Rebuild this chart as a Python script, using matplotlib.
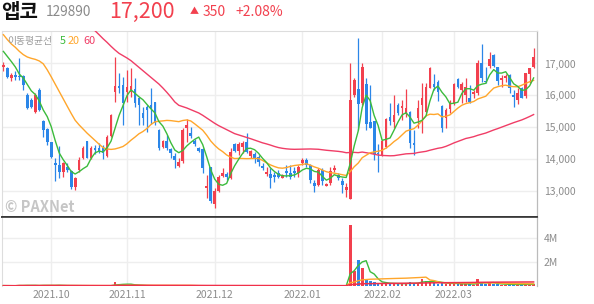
import matplotlib
matplotlib.use('Agg')
import matplotlib.pyplot as plt
import numpy as np
import pandas as pd

plt.rcParams['font.family'] = ['Noto Sans CJK KR', 'DejaVu Sans']

# ---------------- data (daily, 2021-09-10 .. 2022-03-31) ----------------
opens = [16900,16870,16530,16640,16620,16620,16010,15850,15470,16170,
         15190,14930,14520,13860,13810,13600,13740,13620,13130,13650,
         14020,14560,14040,14350,14350,14330,14100,14730,16090,16300,
         16320,16110,16110,16200,15900,15430,15640,15700,15780,14910,
         14385,14560,14310,14100,13780,13935,14960,14825,14563,14333,
         14300,13096,13757,12572,12991,13473,13515,13390,14459,14249,
         14385,14542,14102,14165,14071,13788,13515,13515,13494,13547,
         13410,13620,13547,13620,13547,13882,13966,13809,13253,13180,
         13651,13159,13233,13651,13494,13316,13023,12730,16010,16190,
         15748,16345,15171,15192,14176,14123,14385,15329,15171,15695,
         15590,15402,15486,14490,15276,15695,15486,16240,16345,16429,
         15674,15300,15569,15748,16513,16167,16010,15925,16031,16062,
         17005,16450,16932,17267,16879,16481,16555,16638,16010,15852,
         16219,15988,16660,16900]
highs = [17040,16900,16690,16760,17160,16640,16060,15900,16060,16220,
         15220,14960,14540,14020,14390,13910,13860,13650,13440,14070,
         14390,14560,14390,14450,14490,14440,14750,15420,17210,16690,
         16580,16800,16870,16530,15960,15640,15700,16220,15800,14930,
         14600,14750,14330,14180,14020,14960,15255,15015,14626,14385,
         14333,13494,13757,13075,13494,13704,13600,14333,14490,14542,
         14563,14805,14280,14207,14123,13861,13757,13725,13600,13651,
         13530,13810,13810,13757,13810,14039,14018,13830,13337,13704,
         13725,13230,13757,13809,13547,13390,13233,17005,16534,17790,
         17005,16534,16324,15192,14459,14600,15276,15748,16010,15748,
         15852,16198,15507,14910,15852,16376,16376,16900,16659,16481,
         15695,15590,15852,16376,16534,16429,16534,16324,16167,17110,
         17603,16900,17351,17288,16900,16638,16659,16659,16167,16219,
         16272,16712,16870,17500]
lows = [16760,16555,16450,16480,16480,16170,15570,15600,15430,15510,
        14700,14440,14040,13290,13410,13440,13600,13050,13020,13600,
        14000,14020,14000,14150,14180,14000,14070,14700,15800,16060,
        15060,15800,15960,15640,15070,15070,14860,15100,15070,14280,
        14350,14280,14040,13700,13730,13860,14540,14650,14417,14207,
        13547,12760,12604,12467,12970,13442,13337,13369,14207,14123,
        14176,14176,14039,13861,13788,13651,13473,13096,13285,13390,
        13390,13442,13369,13442,13442,13809,13757,13233,12950,13159,
        13180,13140,13180,13599,13337,12939,12813,12730,15960,14910,
        15696,14910,14962,13966,13599,14100,14354,15066,14962,15381,
        15224,15329,14333,14123,14962,14805,15433,16219,16167,15821,
        14836,14962,15433,15695,16219,15748,15800,15748,15905,16010,
        16429,16376,16848,16900,16324,16272,16429,16062,15643,15716,
        15905,15905,16376,16848]
closes = [16950,16590,16640,16590,16560,16320,15590,15640,16010,15540,
          14910,14540,14070,13810,13600,13860,13650,13100,13410,13970,
          14330,14040,14330,14280,14250,14180,14700,15380,16300,16240,
          15750,16270,16300,15750,15700,15280,15540,15600,15120,14330,
          14560,14350,14180,13970,13910,14910,15066,14730,14460,14260,
          13725,13150,12687,13002,13442,13568,13442,14207,14249,14459,
          14490,14228,14249,14018,13893,13704,13578,13390,13442,13442,
          13494,13547,13442,13547,13757,13966,13809,13337,13159,13651,
          13306,13201,13630,13725,13410,13180,13128,15852,16480,15730,
          16880,15087,14983,14144,14144,14563,15245,15192,15381,15433,
          15664,15590,14490,14438,15611,15925,16272,16869,16272,16115,
          14962,15530,15800,16345,16272,16345,16272,15800,16115,17005,
          16555,16408,17141,16932,16460,16555,16617,16219,15957,16062,
          15925,16691,16850,17200]
volumes = [30e3,25e3,20e3,25e3,90e3,30e3,80e3,25e3,30e3,20e3,
           90e3,70e3,30e3,25e3,80e3,30e3,20e3,25e3,20e3,30e3,
           25e3,20e3,20e3,15e3,15e3,15e3,25e3,60e3,300e3,150e3,
           150e3,90e3,70e3,40e3,30e3,25e3,20e3,20e3,20e3,20e3,
           20e3,15e3,15e3,20e3,15e3,25e3,20e3,15e3,15e3,15e3,
           20e3,20e3,25e3,20e3,15e3,15e3,15e3,20e3,15e3,15e3,
           15e3,20e3,15e3,15e3,15e3,15e3,15e3,15e3,15e3,15e3,
           15e3,15e3,15e3,15e3,15e3,20e3,15e3,20e3,20e3,20e3,
           20e3,15e3,20e3,15e3,15e3,20e3,20e3,5.05e6,1.25e6,2.2e6,
           1.5e6,0.55e6,0.45e6,0.3e6,0.22e6,0.2e6,0.25e6,0.2e6,0.22e6,0.15e6,
           0.18e6,0.25e6,0.3e6,0.2e6,0.25e6,0.62e6,0.4e6,0.35e6,0.25e6,0.2e6,
           0.3e6,0.2e6,0.15e6,0.22e6,0.18e6,0.15e6,0.18e6,0.15e6,0.12e6,0.55e6,
           0.32e6,0.2e6,0.22e6,0.15e6,0.18e6,0.12e6,0.1e6,0.15e6,0.15e6,0.1e6,
           0.1e6,0.18e6,0.12e6,0.2e6]

# moving-average values at the start of the window (read from the chart,
# where the history needed to compute them is not shown)
ma5_head = [17380, 17220, 17060, 16890]
ma20_head = [17906, 17750, 17613, 17508, 17382, 17278, 17204, 17162, 17130, 17080,
             16990, 16800, 16580, 16350, 16120, 15890, 15660, 15430, 15214]
ma60_head = [None] * 22 + [18150, 18030, 17906, 17780, 17665, 17540, 17424, 17320,
             17246, 17173, 17089, 16984, 16879, 16775, 16670, 16565, 16460, 16355,
             16230, 16093, 15947, 15790, 15685, 15643, 15601, 15548, 15496, 15444,
             15370, 15286, 15202, 15119, 15045, 14982, 14920, 14857, 14794]

month_labels = ['2021.10', '2021.11', '2021.12', '2022.01', '2022.02', '2022.03']
month_index = [12, 31, 53, 75, 95, 113]
price_ticks = [13000, 14000, 15000, 16000, 17000]
vol_ticks = [2e6, 4e6]
vol_tick_labels = ['2M', '4M']

stock_name = '앱코'
stock_code = '129890'
last_price = '17,200'
change = '350'
change_pct = '+2.08%'

# ---------------- styling ----------------
RED = '#F2404E'
BLUE = '#2B86E8'
GREEN = '#3CBB3C'
ORANGE = '#FFA62B'
PINK = '#F03D66'
GRID = '#EEEEEE'
LBL = '#8C8C8C'

W, H = 594, 304
fig = plt.figure(figsize=(W / 100, H / 100), dpi=100)
fig.patch.set_facecolor('white')

def fx(px):
    return px / W

def fy(py):
    return 1 - py / H

ax = fig.add_axes([fx(1.8), fy(217), fx(537) - fx(1.8), fy(31) - fy(217)])
axv = fig.add_axes([fx(1.8), fy(286), fx(537) - fx(1.8), fy(217) - fy(286)])

n = len(closes)
x = np.arange(n)
o = np.array(opens, float)
h = np.array(highs, float)
l = np.array(lows, float)
c = np.array(closes, float)
up = c >= o
cols = np.where(up, RED, BLUE)

# moving averages
cs = pd.Series(c)
ma5 = cs.rolling(5).mean().to_numpy()
ma20 = cs.rolling(20).mean().to_numpy()
ma60 = cs.rolling(60).mean().to_numpy()
ma5[:len(ma5_head)] = ma5_head
ma20[:len(ma20_head)] = ma20_head
ma60[:len(ma60_head)] = [np.nan if v is None else v for v in ma60_head]

# ---- price panel ----
for xi in month_index:
    ax.axvline(xi, color=GRID, lw=1.0, zorder=0)
for p in price_ticks:
    ax.axhline(p, color=GRID, lw=1.0, zorder=0)

ax.vlines(x, l, h, colors=cols, lw=0.9, zorder=2)
body = np.maximum(np.abs(c - o), 25)
ax.bar(x, body, bottom=np.minimum(o, c), width=0.68, color=cols, lw=0, zorder=3)

ax.plot(x, ma60, color=PINK, lw=1.0, zorder=4)
ax.plot(x, ma20, color=ORANGE, lw=1.0, zorder=4)
ax.plot(x, ma5, color=GREEN, lw=1.0, zorder=5)

ax.set_xlim(-0.4, 133.85)
ax.set_ylim(12172, 18022)
ax.yaxis.tick_right()
ax.set_yticks(price_ticks)
ax.set_yticklabels([f'{p:,}' for p in price_ticks])
ax.tick_params(axis='y', length=0, pad=5, labelsize=7.5, labelcolor=LBL)
ax.set_xticks([])
for s in ['top', 'left']:
    ax.spines[s].set_color('#DDDDDD')
    ax.spines[s].set_linewidth(0.8)
ax.spines['right'].set_color('#BBBBBB')
ax.spines['right'].set_linewidth(0.9)
ax.spines['bottom'].set_color('#333333')
ax.spines['bottom'].set_linewidth(1.2)

# legend text
fig.text(fx(7), fy(41), '이동평균선', fontsize=7, color='#9A9A9A', va='center', ha='left')
fig.text(fx(59.5), fy(41), '5', fontsize=7.8, color=GREEN, va='center', ha='left')
fig.text(fx(68), fy(41), '20', fontsize=7.8, color=ORANGE, va='center', ha='left')
fig.text(fx(83), fy(41), '60', fontsize=7.8, color=PINK, va='center', ha='left')

# watermark
fig.text(fx(5), fy(207), '© PAXNet', fontsize=10.5, fontweight='bold',
         color='#C6C6C6', va='center', ha='left')

# ---- volume panel ----
for xi in month_index:
    axv.axvline(xi, color=GRID, lw=1.0, zorder=0)
for v in vol_ticks:
    axv.axhline(v, color=GRID, lw=1.0, zorder=0)
vol = np.array(volumes, float)
axv.bar(x, vol, width=0.68, color=cols, lw=0, zorder=2)
vs = pd.Series(vol)
axv.plot(x, vs.rolling(5, min_periods=1).mean(), color=GREEN, lw=1.0, zorder=3)
axv.plot(x, vs.rolling(20, min_periods=1).mean(), color=ORANGE, lw=1.0, zorder=3)
axv.plot(x, vs.rolling(60, min_periods=1).mean(), color='#F0304A', lw=1.1, zorder=4)
axv.set_xlim(-0.4, 133.85)
axv.set_ylim(0, 5.75e6)
axv.yaxis.tick_right()
axv.set_yticks(vol_ticks)
axv.set_yticklabels(vol_tick_labels)
axv.tick_params(axis='y', length=0, pad=5, labelsize=7.5, labelcolor=LBL)
axv.set_xticks(month_index)
axv.set_xticklabels(month_labels)
axv.tick_params(axis='x', length=0, pad=3, labelsize=7.5, labelcolor=LBL)
axv.spines['top'].set_color('#333333')
axv.spines['top'].set_linewidth(1.2)
axv.spines['left'].set_color('#DDDDDD')
axv.spines['left'].set_linewidth(0.8)
axv.spines['right'].set_color('#BBBBBB')
axv.spines['right'].set_linewidth(0.9)
axv.spines['bottom'].set_visible(False)

# ---- header ----
fig.text(fx(1), fy(12), stock_name, fontsize=14.5, fontweight='bold', color='#111111',
         va='center', ha='left')
fig.text(fx(46), fy(12.5), stock_code, fontsize=9.8, color='#8A8A8A', va='center', ha='left')
fig.text(fx(109), fy(12), last_price, fontsize=15.5, color=RED, va='center', ha='left')
fig.text(fx(190), fy(12), '▲', fontsize=6.5, color=RED, va='center', ha='left')
fig.text(fx(203), fy(12.5), change, fontsize=10, color=RED, va='center', ha='left')
fig.text(fx(235), fy(12.5), change_pct, fontsize=10, color=RED, va='center', ha='left')

fig.savefig('out.png', dpi=100, facecolor='white')
